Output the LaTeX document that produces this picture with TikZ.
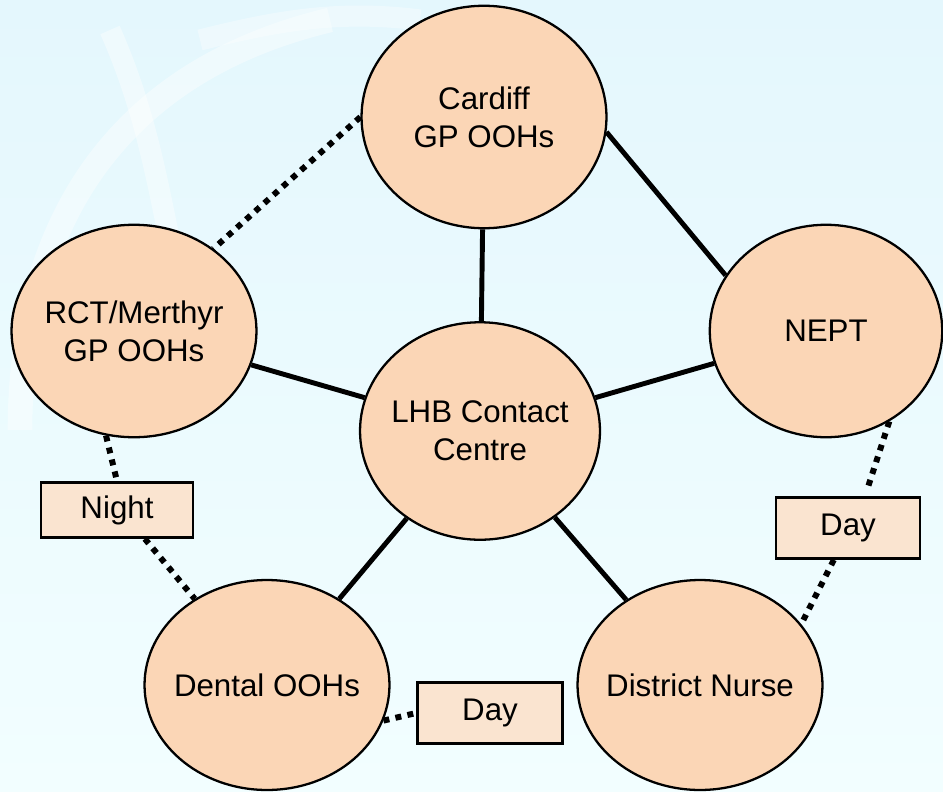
\documentclass[tikz,border=0pt]{standalone}
\usepackage{fontspec}
\setmainfont{Liberation Sans}
\usepackage{tikz}
\usetikzlibrary{shapes, positioning, arrows.meta}

\definecolor{fondo}{RGB}{228,247,253}
\definecolor{fondob}{RGB}{242,254,255}
\definecolor{durazno}{RGB}{251,214,182}
\definecolor{cajita}{RGB}{250,228,208}

\tikzset{
    centro/.style={ellipse, draw, line width=1.3pt, fill=durazno, inner sep=0pt,
        minimum width=4.9cm, minimum height=4.25cm},
    texto/.style={align=center, font=\fontsize{17.8}{21.5}\selectfont},
    turno/.style={rectangle, draw, line width=1.5pt, fill=cajita, minimum height=1.22cm,
        font=\fontsize{17.8}{21.5}\selectfont},
    enlace/.style={line width=2.8pt},
    punteado/.style={line width=3.4pt, dash pattern=on 3.4pt off 3.6pt},
}

\begin{document}
\begin{tikzpicture}[x=0.02cm, y=-0.02cm]
        % Fondo y marca de agua
        \shade[top color=fondo, bottom color=fondob] (0,0) rectangle (943,791);
        \useasboundingbox (0,0) rectangle (943,791);
        \draw[white, opacity=0.4, line width=14pt] (20,430) .. controls (20,220) and (120,70) .. (330,20);
        \draw[white, opacity=0.4, line width=12pt] (110,30) .. controls (150,120) and (160,200) .. (180,290);
        \draw[white, opacity=0.35, line width=12pt] (200,40) .. controls (280,20) and (340,10) .. (420,20);

        % Centros de atencion
        \node[centro, minimum height=4.45cm, label={[texto]center:{Cardiff\\GP OOHs}}] (cardiff) at (484,117) {};
        \node[centro, label={[texto]center:{RCT/Merthyr\\GP OOHs}}] (rct) at (134,331) {};
        \node[centro, minimum width=4.65cm, label={[texto]center:NEPT}] (nept) at (826,331) {};
        \node[centro, minimum width=4.8cm, minimum height=4.35cm, label={[texto]center:{LHB Contact\\Centre}}] (lhb) at (480,431) {};
        \node[centro, minimum height=4.2cm, label={[texto]center:Dental OOHs}] (dental) at (267,685) {};
        \node[centro, minimum height=4.2cm, label={[texto]center:District Nurse}] (nurse) at (700,685) {};

        % Turnos
        \node[turno, minimum width=3.04cm, minimum height=1.1cm] (noche) at (117,510) {Night};
        \node[turno, minimum width=2.9cm] (diaa) at (490,713) {Day};
        \node[turno, minimum width=2.88cm] (diab) at (848,528) {Day};
        \coordinate (corte) at (868,487);

        % Enlaces
        \foreach \dest in {cardiff, rct, nept, dental, nurse} {
            \draw[enlace] (lhb) -- (\dest);
        }
        \draw[enlace] (cardiff.-7) -- (nept.151);

        \draw[punteado] (cardiff.west) -- (rct.46);
        \draw[punteado] (rct.255) -- (noche.north);
        \draw[punteado] (noche.-46) -- (dental.130);
        \draw[punteado] (dental.-17) -- (diaa.west);
        \draw[punteado] (nept.-55) -- (corte);
        \draw[punteado] (diab.-114) -- (nurse.31);
\end{tikzpicture}
\end{document}
